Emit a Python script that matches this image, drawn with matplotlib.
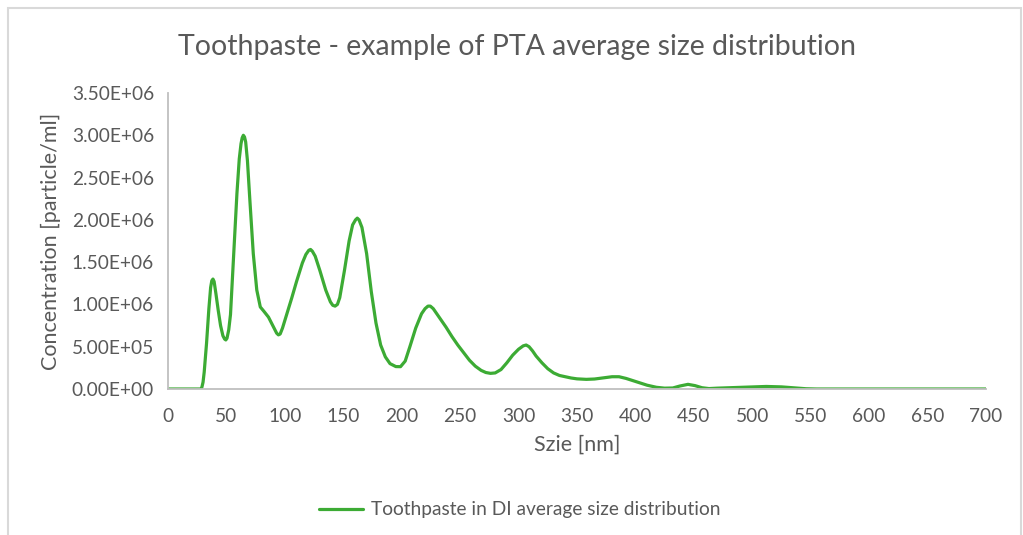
import matplotlib

matplotlib.use("Agg")
import matplotlib.pyplot as plt
from matplotlib.patches import Rectangle

# Size [nm] and concentration [particle/ml]
size_nm = [0, 10, 20, 28, 29, 30, 31, 33, 35, 36.5, 37.5, 38.5, 39.5, 41, 43, 45, 47,
           48.5, 49.5, 50.5, 52, 53.5, 56, 59, 61, 62.5, 63.5, 64.5, 65.5, 66.5, 68,
           70, 73, 76, 79, 82, 86, 90, 93, 94.5, 96, 98, 102, 106, 110, 115, 118,
           120.5, 122, 123.5, 126, 130, 135, 139, 141, 143, 145, 147, 151, 155, 158,
           160.5, 162, 163.5, 166, 170, 174, 178, 182, 186, 190, 195, 199, 203, 207,
           212, 217, 220, 222.5, 224.5, 227, 230, 233, 238, 243, 248, 253, 258, 263,
           268, 272, 276, 280, 285, 290, 295, 300, 304, 306.5, 309, 312, 315, 320,
           325, 330, 335, 340, 345, 350, 358, 365, 372, 380, 386, 392, 398, 404, 410,
           418, 425, 432, 438, 445, 451, 457, 463, 470, 480, 490, 500, 512, 525, 535,
           546, 555, 600, 650, 700]
conc_e6 = [0, 0, 0, 0, 0.02, 0.08, 0.2, 0.54, 0.95, 1.2, 1.28, 1.3, 1.27, 1.13, 0.93,
           0.75, 0.63, 0.59, 0.58, 0.6, 0.7, 0.88, 1.52, 2.31, 2.72, 2.9, 2.97, 3.0,
           2.98, 2.92, 2.7, 2.25, 1.6, 1.17, 0.97, 0.92, 0.85, 0.74, 0.66, 0.64,
           0.65, 0.72, 0.9, 1.08, 1.27, 1.49, 1.59, 1.64, 1.65, 1.63, 1.57, 1.4,
           1.17, 1.03, 0.99, 0.98, 1.0, 1.08, 1.4, 1.75, 1.94, 2.0, 2.02, 2.0, 1.91,
           1.6, 1.15, 0.78, 0.52, 0.38, 0.3, 0.265, 0.264, 0.33, 0.5, 0.72, 0.89,
           0.95, 0.98, 0.98, 0.95, 0.89, 0.83, 0.73, 0.62, 0.52, 0.43, 0.34, 0.27,
           0.22, 0.195, 0.185, 0.19, 0.23, 0.31, 0.4, 0.47, 0.51, 0.52, 0.5, 0.45,
           0.39, 0.31, 0.24, 0.19, 0.16, 0.145, 0.13, 0.12, 0.114, 0.118, 0.13,
           0.145, 0.145, 0.125, 0.098, 0.07, 0.045, 0.02, 0.01, 0.012, 0.035, 0.055,
           0.04, 0.015, 0.005, 0.01, 0.015, 0.02, 0.025, 0.03, 0.025, 0.015, 0.003,
           0.0, 0.0, 0.0, 0.0]
conc = [v * 1e6 for v in conc_e6]

x_ticks = list(range(0, 701, 50))
y_ticks = [i * 0.5e6 for i in range(8)]

title = "Toothpaste - example of PTA average size distribution"
series_name = "Toothpaste in DI average size distribution"

TXT = "#595959"
plt.rcParams["font.family"] = ["Lato", "DejaVu Sans"]

fig = plt.figure(figsize=(10.23, 5.35), dpi=100)
ax = fig.add_axes([0.1642, 0.2729, 0.7996, 0.5533])

ax.plot(size_nm, conc, color="#3cab34", lw=2.3, solid_capstyle="round",
        solid_joinstyle="round", label=series_name)

ax.set_xlim(0, 700)
ax.set_ylim(0, 3.5e6)
ax.set_xticks(x_ticks)
ax.set_yticks(y_ticks)
ax.set_yticklabels([f"{v:.2E}" for v in y_ticks])
ax.tick_params(length=0, labelsize=13.8, colors=TXT, pad=10)
ax.tick_params(axis="x", pad=14)

for side in ("top", "right"):
    ax.spines[side].set_visible(False)
for side in ("left", "bottom"):
    ax.spines[side].set_color("#bfbfbf")
    ax.spines[side].set_linewidth(1.3)

ax.set_xlabel("Szie [nm]", fontsize=15.5, color=TXT, labelpad=7)
ax.set_ylabel("Concentration [particle/ml]", fontsize=15.5, color=TXT, labelpad=8)
fig.text(0.505, 0.912, title, ha="center", va="center", fontsize=20.5, color=TXT)

fig.legend(loc="center", bbox_to_anchor=(0.508, 0.047), frameon=False,
           fontsize=13.8, labelcolor=TXT, handlelength=2.3, handletextpad=0.4)

# chart area border, as in the spreadsheet screenshot
fig.patches.append(Rectangle((8 / 1023, -0.05), 1013 / 1023, 1.05 - 8 / 535,
                             transform=fig.transFigure, fill=False,
                             edgecolor="#d9d9d9", lw=1.5))

fig.savefig("out.png", dpi=100)
